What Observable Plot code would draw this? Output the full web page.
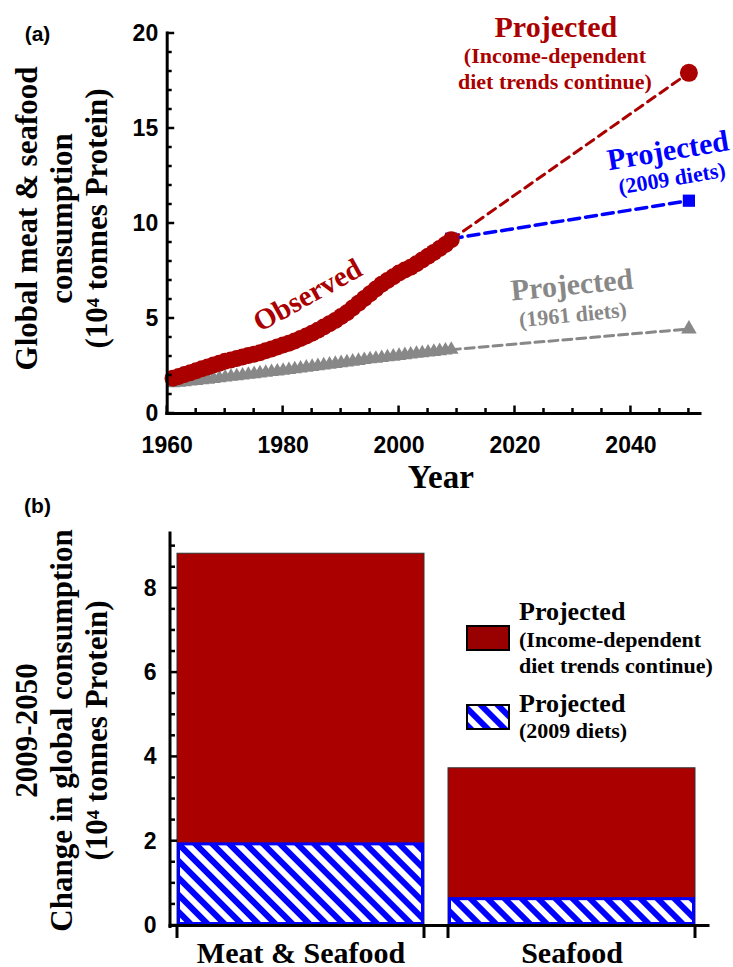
<!DOCTYPE html>
<html>
<head>
<meta charset="utf-8">
<script src="https://cdn.jsdelivr.net/npm/d3@7"></script>
<script src="https://cdn.jsdelivr.net/npm/@observablehq/plot@0.6"></script>
<style>
  body { margin: 0; background: #fff; }
  #chart svg { display: block; }
</style>
</head>
<body>
<div id="chart"></div>
<script>
// ---------- DATA ----------
const years = [1961,1962,1963,1964,1965,1966,1967,1968,1969,1970,
               1971,1972,1973,1974,1975,1976,1977,1978,1979,1980,
               1981,1982,1983,1984,1985,1986,1987,1988,1989,1990,
               1991,1992,1993,1994,1995,1996,1997,1998,1999,2000,
               2001,2002,2003,2004,2005,2006,2007,2008,2009];
const observedValues = [1.85,1.95,2.05,2.15,2.25,2.35,2.45,2.55,2.65,2.75,
                        2.82,2.90,2.97,3.05,3.12,3.20,3.30,3.40,3.50,3.60,
                        3.70,3.82,3.95,4.08,4.22,4.38,4.55,4.72,4.90,5.10,
                        5.30,5.55,5.80,6.05,6.30,6.55,6.80,7.00,7.20,7.40,
                        7.55,7.70,7.88,8.08,8.28,8.48,8.68,8.90,9.15];
const diet1961Values = [1.60,1.63,1.66,1.69,1.72,1.76,1.79,1.83,1.86,1.90,
                        1.94,1.97,2.01,2.05,2.08,2.12,2.15,2.19,2.22,2.26,
                        2.30,2.34,2.38,2.42,2.46,2.50,2.54,2.58,2.62,2.66,
                        2.70,2.74,2.78,2.82,2.86,2.89,2.93,2.97,3.00,3.04,
                        3.08,3.11,3.15,3.18,3.22,3.25,3.29,3.32,3.36];
const projYears = [2009, 2050];
const incomeProjValues = [9.15, 17.93];
const diet2009ProjValues = [9.2, 11.2];
const diet1961ProjValues = [3.36, 4.45];

const xMajorTicks = [1960, 1980, 2000, 2020, 2040];
const xMinorTicks = [1965, 1970, 1975, 1985, 1990, 1995, 2005, 2010, 2015, 2025, 2030, 2035, 2045, 2050];
const yMajorTicks = [0, 5, 10, 15, 20];
const yMinorTicks = [1, 2, 3, 4, 6, 7, 8, 9, 11, 12, 13, 14, 16, 17, 18, 19];

const categories = ["Meat & Seafood", "Seafood"];
const incomeChange = [8.82, 3.73];
const diet2009Change = [1.96, 0.66];
const yMajorTicksB = [0, 2, 4, 6, 8];
const yMinorTicksB = [0.5, 1, 1.5, 2.5, 3, 3.5, 4.5, 5, 5.5, 6.5, 7, 7.5, 8.5, 9];

const yTitleA = "Global meat & seafood\nconsumption\n(10⁴ tonnes Protein)";
const yTitleB = "2009-2050\nChange in global consumption\n(10⁴ tonnes Protein)";
const legendIncome = ["Projected", "(Income-dependent", "diet trends continue)"];
const legend2009 = ["Projected", "(2009 diets)"];

// ---------- STYLE ----------
const W = 733;
const serif = "'Liberation Serif', 'Times New Roman', serif";
const sans = "'Liberation Sans', Arial, sans-serif";
const RED = "#aa0000", BLUE = "#0000ff", GRAY = "#888888";
const baseStyle = {fontFamily: sans, fontWeight: "bold", fontSize: "23px", color: "black", background: "white", overflow: "visible"};

const observed = years.map((year, i) => ({year, value: observedValues[i]}));
const diet1961 = years.map((year, i) => ({year, value: diet1961Values[i]}));
const mk = vals => projYears.map((year, i) => ({year, value: vals[i]}));
const incomeP = mk(incomeProjValues), d2009P = mk(diet2009ProjValues), d1961P = mk(diet1961ProjValues);
const last = arr => [arr[arr.length - 1]];
const xy = {x: "year", y: "value"};
const serifText = {fontFamily: serif, fontWeight: "bold", textAnchor: "middle", lineAnchor: "middle"};

// ---------- PANEL A ----------
const mLA = 166.7;
const plotA = Plot.plot({
  width: W, height: 500,
  marginLeft: mLA, marginRight: 33, marginTop: 33, marginBottom: 87,
  style: baseStyle,
  x: {domain: [1960, 2052]},
  y: {domain: [0, 20]},
  marks: [
    Plot.line(d1961P, {...xy, stroke: GRAY, strokeWidth: 3, strokeDasharray: "9,5"}),
    Plot.dot(diet1961, {...xy, symbol: "triangle", r: 5.4, fill: GRAY}),
    Plot.dot(last(d1961P), {...xy, symbol: "triangle", r: 5.8, fill: GRAY}),
    Plot.line(d2009P, {...xy, stroke: BLUE, strokeWidth: 3.5, strokeDasharray: "11,6"}),
    Plot.dot(d2009P, {...xy, symbol: "square", r: 6.9, fill: BLUE}),
    Plot.line(incomeP, {...xy, stroke: RED, strokeWidth: 3, strokeDasharray: "9,6"}),
    Plot.dot(observed, {...xy, r: 8.5, fill: RED}),
    Plot.dot(last(incomeP), {...xy, r: 9, fill: RED}),

    // axes
    Plot.ruleY([0], {stroke: "black", strokeWidth: 3, strokeLinecap: "square"}),
    Plot.ruleX([1960], {stroke: "black", strokeWidth: 3, strokeLinecap: "square"}),
    Plot.axisX({ticks: xMajorTicks, tickSize: 0, tickPadding: 23, tickFormat: d => String(d), label: null}),
    Plot.axisY({ticks: yMajorTicks, tickSize: 0, tickPadding: 9, tickFormat: d => String(d), label: null}),

    // titles
    Plot.text(["Year"], {text: d => d, frameAnchor: "bottom", dx: 7, dy: 64, fontSize: 33, ...serifText}),
    Plot.text([yTitleA], {text: d => d, frameAnchor: "left", rotate: -90, dx: -106, dy: -5, fontSize: 31, lineHeight: 1.13, ...serifText}),
    Plot.text(["(a)"], {text: d => d, frameAnchor: "top-left", dx: -129.7, dy: 1, fontSize: 21, fontFamily: sans, fontWeight: "bold", textAnchor: "middle", lineAnchor: "middle"}),

    // annotations
    Plot.text(last(incomeP), {...xy, text: () => "Projected", dx: -133, dy: -45, fontSize: 30, fill: RED, ...serifText}),
    Plot.text(last(incomeP), {...xy, text: () => "(Income-dependent", dx: -134, dy: -17, fontSize: 22, fill: RED, ...serifText}),
    Plot.text(last(incomeP), {...xy, text: () => "diet trends continue)", dx: -134, dy: 9, fontSize: 22, fill: RED, ...serifText}),
    Plot.text(last(d2009P), {...xy, text: () => "Projected", dx: -21, dy: -50, rotate: -9.5, fontSize: 30, fill: BLUE, ...serifText}),
    Plot.text(last(d2009P), {...xy, text: () => "(2009 diets)", dx: -17, dy: -22, rotate: -9.5, fontSize: 22, fill: BLUE, ...serifText}),
    Plot.text(last(d1961P), {...xy, text: () => "Projected", dx: -117, dy: -44, rotate: -5.5, fontSize: 30, fill: GRAY, ...serifText}),
    Plot.text(last(d1961P), {...xy, text: () => "(1961 diets)", dx: -116, dy: -14, rotate: -5.5, fontSize: 22, fill: GRAY, ...serifText}),
    Plot.text([observed[24]], {...xy, text: () => "Observed", dx: -4.6, dy: -38, rotate: -29, fontSize: 29, fill: RED, ...serifText})
  ]
});

// inward ticks for panel A, placed with Plot's own scales
{
  const sx = plotA.scale("x"), sy = plotA.scale("y");
  const bx = sx.apply(1960), by = sy.apply(0);
  const g = d3.select(plotA).append("g").attr("stroke", "black").attr("stroke-width", 2.5);
  xMajorTicks.forEach(v => g.append("line").attr("x1", sx.apply(v)).attr("x2", sx.apply(v)).attr("y1", by).attr("y2", by - 7.5));
  xMinorTicks.forEach(v => g.append("line").attr("x1", sx.apply(v)).attr("x2", sx.apply(v)).attr("y1", by).attr("y2", by - 5));
  yMajorTicks.forEach(v => g.append("line").attr("y1", sy.apply(v)).attr("y2", sy.apply(v)).attr("x1", bx).attr("x2", bx + 7.5));
  yMinorTicks.forEach(v => g.append("line").attr("y1", sy.apply(v)).attr("y2", sy.apply(v)).attr("x1", bx).attr("x2", bx + 5));
}

// ---------- PANEL B ----------
const bars = categories.map((category, i) => ({category, income: incomeChange[i], diet2009: diet2009Change[i]}));
const mLB = 170;
const plotB = Plot.plot({
  width: W, height: 467,
  marginLeft: mLB, marginRight: 25, marginTop: 33, marginBottom: 42,
  style: baseStyle,
  x: {domain: categories, range: [176.5, 696], paddingInner: 0.088, paddingOuter: 0},
  y: {domain: [0, 9.3]},
  marks: [
    Plot.barY(bars, {x: "category", y1: 0, y2: "income", fill: RED, stroke: "#333", strokeWidth: 1}),
    Plot.barY(bars, {x: "category", y1: 0, y2: "diet2009", fill: "url(#hatch)", stroke: BLUE, strokeWidth: 3, inset: 1.5}),
    Plot.ruleY([0], {stroke: "black", strokeWidth: 3, strokeLinecap: "square"}),
    Plot.axisX({tickSize: 0, tickPadding: 16, fontSize: 30, fontFamily: serif, fontWeight: "bold", label: null}),
    Plot.axisY({ticks: yMajorTicksB, tickSize: 0, tickPadding: 14, tickFormat: d => String(d), label: null}),
    Plot.text([yTitleB], {text: d => d, frameAnchor: "left", rotate: -90, dx: -109.4, dy: 1, fontSize: 31, lineHeight: 1.13, ...serifText}),
    Plot.text(["(b)"], {text: d => d, frameAnchor: "top-left", dx: -133, dy: -27, fontSize: 21, fontFamily: sans, fontWeight: "bold", textAnchor: "middle", lineAnchor: "middle"})
  ]
});

// hatch pattern + axis details drawn with Plot's own scales
const svgB = d3.select(plotB);
const defs = svgB.insert("defs", ":first-child");
const pat = defs.append("pattern").attr("id", "hatch").attr("patternUnits", "userSpaceOnUse")
  .attr("width", 12).attr("height", 12).attr("patternTransform", "rotate(-45)");
pat.append("rect").attr("width", 12).attr("height", 12).attr("fill", "white");
pat.append("rect").attr("width", 6).attr("height", 12).attr("fill", BLUE);

const xs = plotB.scale("x"), ys = plotB.scale("y");
const y0 = ys.apply(0);
const ax = svgB.append("g").attr("stroke", "black");
ax.append("line").attr("x1", mLB).attr("x2", mLB).attr("y1", y0 + 1.5).attr("y2", ys.apply(9.3)).attr("stroke-width", 3).attr("stroke-linecap", "square");
yMajorTicksB.forEach(v => ax.append("line").attr("x1", mLB).attr("x2", mLB + 7).attr("y1", ys.apply(v)).attr("y2", ys.apply(v)).attr("stroke-width", 2.5));
yMinorTicksB.forEach(v => ax.append("line").attr("x1", mLB).attr("x2", mLB + 5).attr("y1", ys.apply(v)).attr("y2", ys.apply(v)).attr("stroke-width", 2.5));
categories.forEach(c => {
  const l = xs.apply(c), r = l + xs.bandwidth;
  [l, r].forEach(px => ax.append("line").attr("x1", px).attr("x2", px).attr("y1", y0).attr("y2", y0 + 13).attr("stroke-width", 3));
});

// legend
const lg = svgB.append("g").attr("font-family", serif).attr("font-weight", "bold").attr("fill", "black").attr("text-anchor", "start");
lg.append("rect").attr("x", 467).attr("y", 126).attr("width", 42).attr("height", 24)
  .attr("fill", "#990000").attr("stroke", "black").attr("stroke-width", 2);
lg.append("rect").attr("x", 467).attr("y", 205).attr("width", 42).attr("height", 24)
  .attr("fill", "url(#hatch)").attr("stroke", "black").attr("stroke-width", 2);
[[legendIncome[0], 120, 26], [legendIncome[1], 147, 22], [legendIncome[2], 173, 22],
 [legend2009[0], 212, 26], [legend2009[1], 238, 22]].forEach(([t, y, fs]) =>
  lg.append("text").attr("x", 519).attr("y", y).attr("font-size", fs).attr("text-anchor", "start").text(t));

const chart = document.getElementById("chart");
chart.appendChild(plotA);
chart.appendChild(plotB);
</script>
</body>
</html>
